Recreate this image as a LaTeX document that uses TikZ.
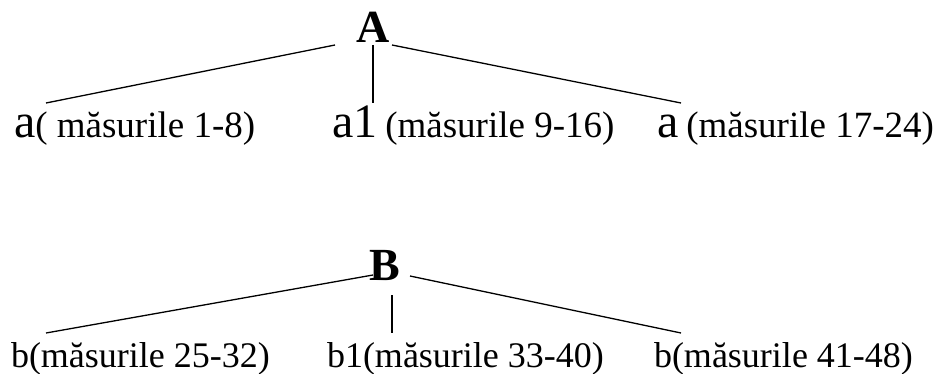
\documentclass[tikz,border=0pt]{standalone}
\usepackage{fontspec}
\setmainfont{Liberation Serif}
\newcommand{\bigtxt}{\fontsize{48}{48}\selectfont}
\newcommand{\toptxt}{\fontsize{37}{37}\selectfont}
\newcommand{\smalltxt}{\fontsize{36}{36}\selectfont}
\newcommand{\headtxt}{\fontsize{46}{46}\selectfont\bfseries}
\begin{document}
\begin{tikzpicture}[x=1pt,y=-1pt,
  lbl/.style={anchor=base west,inner sep=0pt,outer sep=0pt},
  head/.style={anchor=base,inner sep=0pt,outer sep=0pt,font=\headtxt},
  conn/.style={line width=1.3pt,line cap=butt}]
\useasboundingbox (0,0) rectangle (941,374);
% top group
\node[head] (A) at (373,43) {A};
\node[lbl] (a1) at (14,138) {{\bigtxt a}{\toptxt( măsurile 1-8)}};
\node[lbl] (a2) at (332,138) {{\bigtxt a1}{\toptxt\hspace{8pt}(măsurile 9-16)}};
\node[lbl] (a3) at (657,138) {{\bigtxt a}{\toptxt\hspace{8pt}(măsurile 17-24)}};
\coordinate (Al) at (335,45);
\coordinate (Am) at (373,45);
\coordinate (Ar) at (392,45);
\coordinate (a1t) at (46,103);
\coordinate (a2t) at (373,103);
\coordinate (a3t) at (681,103);
\draw[conn] (Al) -- (a1t);
\draw[conn] (Am) -- (a2t);
\draw[conn] (Ar) -- (a3t);
% bottom group
\node[head] (B) at (385,280) {B};
\node[lbl,font=\smalltxt] (b1) at (11,367) {b(măsurile 25-32)};
\node[lbl,font=\smalltxt] (b2) at (327,367) {b1(măsurile 33-40)};
\node[lbl,font=\smalltxt] (b3) at (654,367) {b(măsurile 41-48)};
\coordinate (Bl) at (373,275);
\coordinate (Bm) at (392,295);
\coordinate (Br) at (410,276);
\coordinate (b1t) at (46,333);
\coordinate (b2t) at (392,333);
\coordinate (b3t) at (681,333);
\draw[conn] (Bl) -- (b1t);
\draw[conn] (Bm) -- (b2t);
\draw[conn] (Br) -- (b3t);
\end{tikzpicture}
\end{document}
